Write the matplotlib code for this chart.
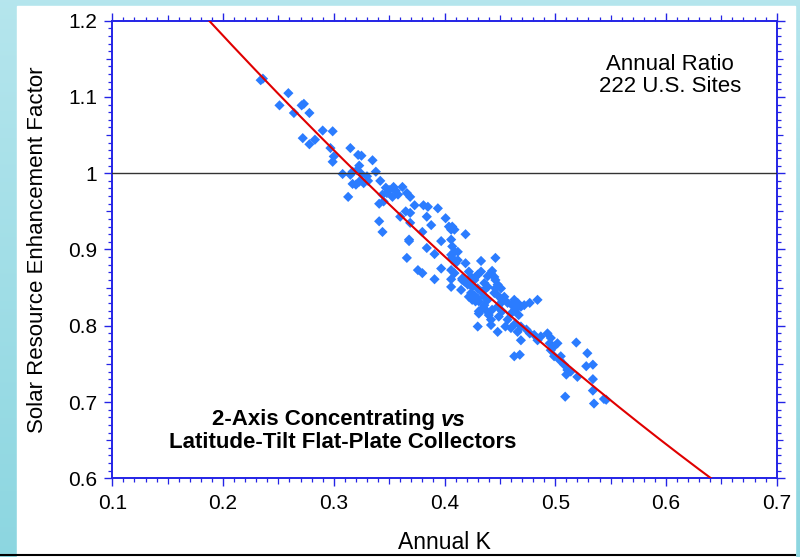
import numpy as np
import matplotlib
matplotlib.use("Agg")
import matplotlib.pyplot as plt
from matplotlib.ticker import MultipleLocator

plt.rcParams['font.family'] = ['Liberation Sans', 'DejaVu Sans']

# ---- data (Annual K, Solar Resource Enhancement Factor) ----
annual_k = [
    0.234, 0.236, 0.259, 0.251, 0.271, 0.273, 0.264, 0.278, 0.290, 0.299,
    0.272, 0.283, 0.278, 0.297, 0.315, 0.300, 0.299, 0.322, 0.325, 0.335,
    0.323, 0.308, 0.315, 0.317, 0.321, 0.325, 0.338, 0.317, 0.323, 0.331,
    0.342, 0.313, 0.347, 0.354, 0.362, 0.344, 0.348, 0.353, 0.358, 0.341,
    0.345, 0.366, 0.369, 0.373, 0.381, 0.385, 0.365, 0.369, 0.360, 0.384,
    0.341, 0.369, 0.344, 0.380, 0.368, 0.388, 0.394, 0.401, 0.404, 0.406,
    0.409, 0.407, 0.419, 0.368, 0.397, 0.406, 0.384, 0.391, 0.407, 0.409,
    0.412, 0.406, 0.366, 0.407, 0.412, 0.410, 0.433, 0.446, 0.419, 0.376,
    0.380, 0.397, 0.406, 0.422, 0.424, 0.428, 0.427, 0.443, 0.439, 0.391,
    0.406, 0.416, 0.418, 0.421, 0.446, 0.406, 0.415, 0.425, 0.430, 0.433,
    0.424, 0.427, 0.430, 0.428, 0.436, 0.439, 0.446, 0.445, 0.448, 0.439,
    0.436, 0.433, 0.431, 0.454, 0.451, 0.443, 0.440, 0.442, 0.448, 0.452,
    0.449, 0.463, 0.466, 0.469, 0.461, 0.472, 0.477, 0.484, 0.464, 0.460,
    0.467, 0.457, 0.455, 0.460, 0.448, 0.430, 0.442, 0.464, 0.469, 0.466,
    0.474, 0.477, 0.481, 0.469, 0.487, 0.484, 0.493, 0.496, 0.495, 0.499,
    0.502, 0.519, 0.463, 0.468, 0.496, 0.499, 0.504, 0.508, 0.511, 0.514,
    0.510, 0.520, 0.529, 0.534, 0.528, 0.534, 0.534, 0.509, 0.535, 0.544,
    0.546, 0.505, 0.409, 0.416, 0.422, 0.425, 0.431, 0.436, 0.437, 0.431,
    0.448, 0.451, 0.445, 0.442, 0.452, 0.457, 0.430, 0.433, 0.436, 0.421,
    0.327, 0.330, 0.320, 0.350, 0.356,
]
enhancement = [
    1.122, 1.124, 1.105, 1.089, 1.089, 1.091, 1.079, 1.079, 1.056, 1.055,
    1.046, 1.044, 1.038, 1.033, 1.033, 1.022, 1.015, 1.024, 1.023, 1.017,
    1.010, 0.999, 0.998, 1.002, 1.004, 0.999, 1.002, 0.986, 0.989, 0.990,
    0.990, 0.969, 0.981, 0.982, 0.982, 0.972, 0.974, 0.969, 0.972, 0.960,
    0.963, 0.974, 0.969, 0.958, 0.958, 0.956, 0.950, 0.948, 0.943, 0.943,
    0.937, 0.935, 0.923, 0.923, 0.913, 0.932, 0.954, 0.941, 0.930, 0.926,
    0.926, 0.930, 0.920, 0.911, 0.911, 0.913, 0.902, 0.894, 0.904, 0.897,
    0.897, 0.893, 0.889, 0.889, 0.886, 0.882, 0.885, 0.889, 0.882, 0.873,
    0.869, 0.875, 0.873, 0.871, 0.864, 0.864, 0.860, 0.872, 0.865, 0.861,
    0.861, 0.860, 0.858, 0.856, 0.860, 0.851, 0.847, 0.851, 0.849, 0.845,
    0.843, 0.840, 0.836, 0.832, 0.847, 0.851, 0.849, 0.843, 0.840, 0.834,
    0.827, 0.821, 0.816, 0.838, 0.830, 0.821, 0.814, 0.808, 0.825, 0.819,
    0.812, 0.834, 0.830, 0.825, 0.827, 0.827, 0.830, 0.834, 0.821, 0.816,
    0.814, 0.808, 0.799, 0.797, 0.792, 0.799, 0.801, 0.803, 0.799, 0.792,
    0.795, 0.790, 0.788, 0.781, 0.786, 0.781, 0.790, 0.784, 0.777, 0.773,
    0.777, 0.778, 0.760, 0.762, 0.768, 0.760, 0.755, 0.749, 0.742, 0.740,
    0.736, 0.733, 0.764, 0.749, 0.747, 0.730, 0.715, 0.707, 0.698, 0.704,
    0.703, 0.760, 0.869, 0.862, 0.838, 0.834, 0.832, 0.838, 0.821, 0.819,
    0.854, 0.849, 0.864, 0.869, 0.834, 0.830, 0.867, 0.871, 0.856, 0.854,
    0.987, 0.996, 0.985, 0.978, 0.977,
]
# fitted curve (quadratic coefficients)
fit_coef = [0.540, -1.771, 1.513]
x_ticks = [0.1, 0.2, 0.3, 0.4, 0.5, 0.6, 0.7]
y_ticks = [0.6, 0.7, 0.8, 0.9, 1.0, 1.1, 1.2]
x_tick_labels = ['0.1', '0.2', '0.3', '0.4', '0.5', '0.6', '0.7']
y_tick_labels = ['0.6', '0.7', '0.8', '0.9', '1', '1.1', '1.2']

W, H = 800, 557
fig = plt.figure(figsize=(W / 100, H / 100), dpi=100)

# background gradient
bg = fig.add_axes([0, 0, 1, 1], zorder=-10)
grad = np.linspace(0, 1, 256).reshape(-1, 1)
top = np.array([0.71, 0.90, 0.93])
bot = np.array([0.55, 0.84, 0.88])
img = top[None, None, :] * (1 - grad[:, :, None]) + bot[None, None, :] * grad[:, :, None]
bg.imshow(img, aspect='auto', extent=[0, 1, 0, 1], origin='upper')
bg.add_patch(plt.Rectangle((17 / W, 0), (795 - 17) / W, (557 - 6) / H, color='white'))
bg.plot([0, 795 / W], [2.5 / H, 2.5 / H], color='black', lw=1.5)
bg.set_xlim(0, 1)
bg.set_ylim(0, 1)
bg.axis('off')

blue = '#2424e6'
ax = fig.add_axes([112.3 / W, (H - 478.3) / H, 664.4 / W, 457.6 / H])
ax.set_xlim(0.1, 0.7)
ax.set_ylim(0.6, 1.2)

ax.scatter(annual_k, enhancement, marker='D', s=27, color='#2b7cff',
           edgecolors='none', zorder=3)
ax.axhline(1.0, color='#333333', lw=1.0, zorder=4)
xf = np.linspace(0.1, 0.7, 300)
ax.plot(xf, np.polyval(fit_coef, xf), color='#e00000', lw=1.5, zorder=5)

ax.set_xticks(x_ticks)
ax.set_xticklabels(x_tick_labels)
ax.set_yticks(y_ticks)
ax.set_yticklabels(y_tick_labels)
ax.xaxis.set_minor_locator(MultipleLocator(0.01))
ax.yaxis.set_minor_locator(MultipleLocator(0.01))
ax.tick_params(which='both', direction='out', top=True, right=True,
               color=blue, labelsize=15)
ax.tick_params(which='major', length=6, width=1.0)
ax.tick_params(axis='x', which='major', pad=5.5)
ax.tick_params(axis='y', which='major', pad=5)
ax.tick_params(which='minor', length=2.8, width=0.9)
for sp in ax.spines.values():
    sp.set_color(blue)
    sp.set_linewidth(1.4)

ax.set_xlabel('Annual K', fontsize=16.5, labelpad=13)
ax.set_ylabel('Solar Resource Enhancement Factor', fontsize=16, labelpad=14)

ax.text(0.839, 0.880, 'Annual Ratio\n222 U.S. Sites', transform=ax.transAxes,
        ha='center', va='center', fontsize=16, linespacing=1.05)

t1 = fig.text(212 / W, (H - 420) / H, '2-Axis Concentrating', fontsize=16,
              fontweight='bold', ha='left', va='center')
ax.annotate('vs', xy=(1, 0), xycoords=t1, xytext=(4.5, 0),
            textcoords='offset points', fontsize=16, fontweight='bold',
            fontstyle='italic', ha='left', va='bottom')
fig.text(343 / W, (H - 442) / H, 'Latitude-Tilt Flat-Plate Collectors',
         fontsize=16, fontweight='bold', ha='center', va='center')

# medium ticks at half-way positions
fig.canvas.draw()
for axis in (ax.xaxis, ax.yaxis):
    locs = axis.get_minorticklocs()
    ticks = axis.get_minor_ticks(len(locs))
    for loc, tk in zip(locs, ticks):
        if round(loc * 100) % 10 == 5:
            tk.tick1line.set_markersize(4.5)
            tk.tick2line.set_markersize(4.5)

fig.savefig('out.png', dpi=100)
